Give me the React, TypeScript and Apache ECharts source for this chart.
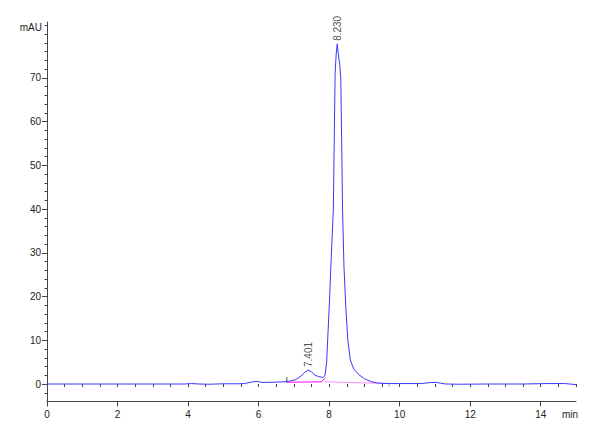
import * as echarts from 'echarts';
import { useEffect, useRef } from 'react';

// retention time (min) and absorbance (mAU) of the trace
const times = [
  0, 3.9, 4.1, 4.3, 4.6, 5.0, 5.4, 5.6, 5.8, 5.95, 6.1, 6.4, 6.7, 6.9, 7.05,
  7.2, 7.3, 7.4, 7.5, 7.6, 7.7, 7.82, 7.88, 7.93, 7.97, 8.01, 8.06, 8.12,
  8.145, 8.17, 8.2, 8.23, 8.26, 8.3, 8.33, 8.355, 8.38, 8.42, 8.47, 8.53, 8.6,
  8.7, 8.85, 9.0, 9.2, 9.4, 9.7, 10.0, 10.6, 10.9, 11.05, 11.3, 11.7, 12.5,
  13.5, 14.2, 14.7, 15,
];
const mAU = [
  0, 0, 0.1, 0, -0.05, 0.05, 0.05, 0.1, 0.45, 0.6, 0.35, 0.4, 0.5, 0.7, 1.0,
  1.8, 2.6, 3.2, 2.8, 2.0, 1.7, 1.5, 1.9, 5, 12, 19, 29, 40,
  56, 71, 75.5, 77.8, 75.5, 73, 70, 56, 40, 27, 18, 10, 5.5,
  3.4, 2.1, 1.2, 0.5, 0.2, 0.1, 0.1, 0.1, 0.35, 0.35, 0, -0.05, 0,
  0, 0.1, 0.1, -0.15,
];

// integration baselines
const baseline1 = [[6.8, 0.4], [7.78, 0.5], [7.9, 1.5]];
const baseline2 = [[7.9, 0.5], [9.7, 0.1]];
const startMark = [[6.8, 0.3], [6.8, 1.6]];
const endMark = [[9.7, -0.7], [9.7, 0.2]];

// peak labels
const peaks = [[7.401, 3.2], [8.23, 77.8]];

// axis ticks
const xMajorTicks = [0, 2, 4, 6, 8, 10, 12, 14];
const xMinorTicks = [
  0, 0.5, 1, 1.5, 2, 2.5, 3, 3.5, 4, 4.5, 5, 5.5, 6, 6.5, 7, 7.5, 8, 8.5, 9,
  9.5, 10, 10.5, 11, 11.5, 12, 12.5, 13, 13.5, 14, 14.5, 15,
];
const yMajorTicks = [0, 10, 20, 30, 40, 50, 60, 70];
const yMinorTicks = [
  -2, 0, 2, 4, 6, 8, 10, 12, 14, 16, 18, 20, 22, 24, 26, 28, 30, 32, 34, 36,
  38, 40, 42, 44, 46, 48, 50, 52, 54, 56, 58, 60, 62, 64, 66, 68, 70, 72, 74,
  76, 78, 80, 82,
];

const font = "'Liberation Sans Narrow', 'Arial Narrow', 'Liberation Sans', Arial, sans-serif";
const axisColor = '#444';

function App() {
  const chartRef = useRef(null);

  useEffect(() => {
    const myChart = echarts.init(chartRef.current, null, { renderer: 'svg' });

    const option = {
      animation: false,
      backgroundColor: '#fff',
      grid: { left: 47, right: 24, top: 22, bottom: 38.5 },
      xAxis: [
        {
          type: 'value',
          min: 0,
          max: 15,
          axisLine: { onZero: false, lineStyle: { color: axisColor } },
          axisTick: { customValues: xMajorTicks, length: 5, lineStyle: { color: axisColor } },
          axisLabel: {
            customValues: xMajorTicks,
            margin: 8,
            fontSize: 10,
            color: '#222',
            fontFamily: font,
          },
          splitLine: { show: false },
        },
        {
          type: 'value',
          position: 'bottom',
          min: 0,
          max: 15,
          axisLine: { show: false },
          axisTick: { customValues: xMinorTicks, length: 3, lineStyle: { color: axisColor } },
          axisLabel: { show: false },
          splitLine: { show: false },
        },
      ],
      yAxis: [
        {
          type: 'value',
          min: -4,
          max: 82.8,
          axisLine: { show: true, onZero: false, lineStyle: { color: axisColor } },
          axisTick: { show: true, customValues: yMajorTicks, length: 5, lineStyle: { color: axisColor } },
          axisLabel: {
            customValues: yMajorTicks,
            margin: 6,
            fontSize: 10,
            color: '#222',
            fontFamily: font,
          },
          splitLine: { show: false },
        },
        {
          type: 'value',
          position: 'left',
          min: -4,
          max: 82.8,
          axisLine: { show: false },
          axisTick: { show: true, customValues: yMinorTicks, length: 2.5, lineStyle: { color: axisColor } },
          axisLabel: { show: false },
          splitLine: { show: false },
        },
      ],
      graphic: [
        {
          type: 'text',
          right: 600 - 42,
          top: 22,
          style: { text: 'mAU', fontSize: 10, fill: '#222', fontFamily: font },
        },
        {
          type: 'text',
          right: 600 - 578,
          top: 409,
          style: { text: 'min', fontSize: 10, fill: '#222', fontFamily: font },
        },
      ],
      series: [
        {
          type: 'line',
          data: baseline1,
          symbol: 'none',
          lineStyle: { color: '#ff00ff', width: 1 },
        },
        {
          type: 'line',
          data: baseline2,
          symbol: 'none',
          lineStyle: { color: '#ff8cff', width: 1 },
        },
        {
          type: 'line',
          data: startMark,
          symbol: 'none',
          lineStyle: { color: '#555', width: 1 },
        },
        {
          type: 'line',
          data: endMark,
          symbol: 'none',
          lineStyle: { color: '#aaa', width: 1 },
        },
        {
          type: 'line',
          data: times.map((t, i) => [t, mAU[i]]),
          symbol: 'none',
          lineStyle: { color: '#3838ff', width: 1 },
        },
        {
          type: 'scatter',
          data: peaks,
          symbolSize: 0,
          label: {
            show: true,
            position: 'top',
            distance: 3,
            rotate: 90,
            align: 'left',
            verticalAlign: 'middle',
            fontSize: 10,
            color: '#222',
            fontFamily: font,
            formatter: (p: any) => p.value[0].toFixed(3),
          },
        },
      ],
    };

    myChart.setOption(option);

    return () => {
      myChart.dispose();
    };
  }, []);

  return (
    <div
      ref={chartRef}
      style={{ position: 'absolute', left: 0, top: 0, width: '600px', height: '440px' }}
    ></div>
  );
}

export default App;
